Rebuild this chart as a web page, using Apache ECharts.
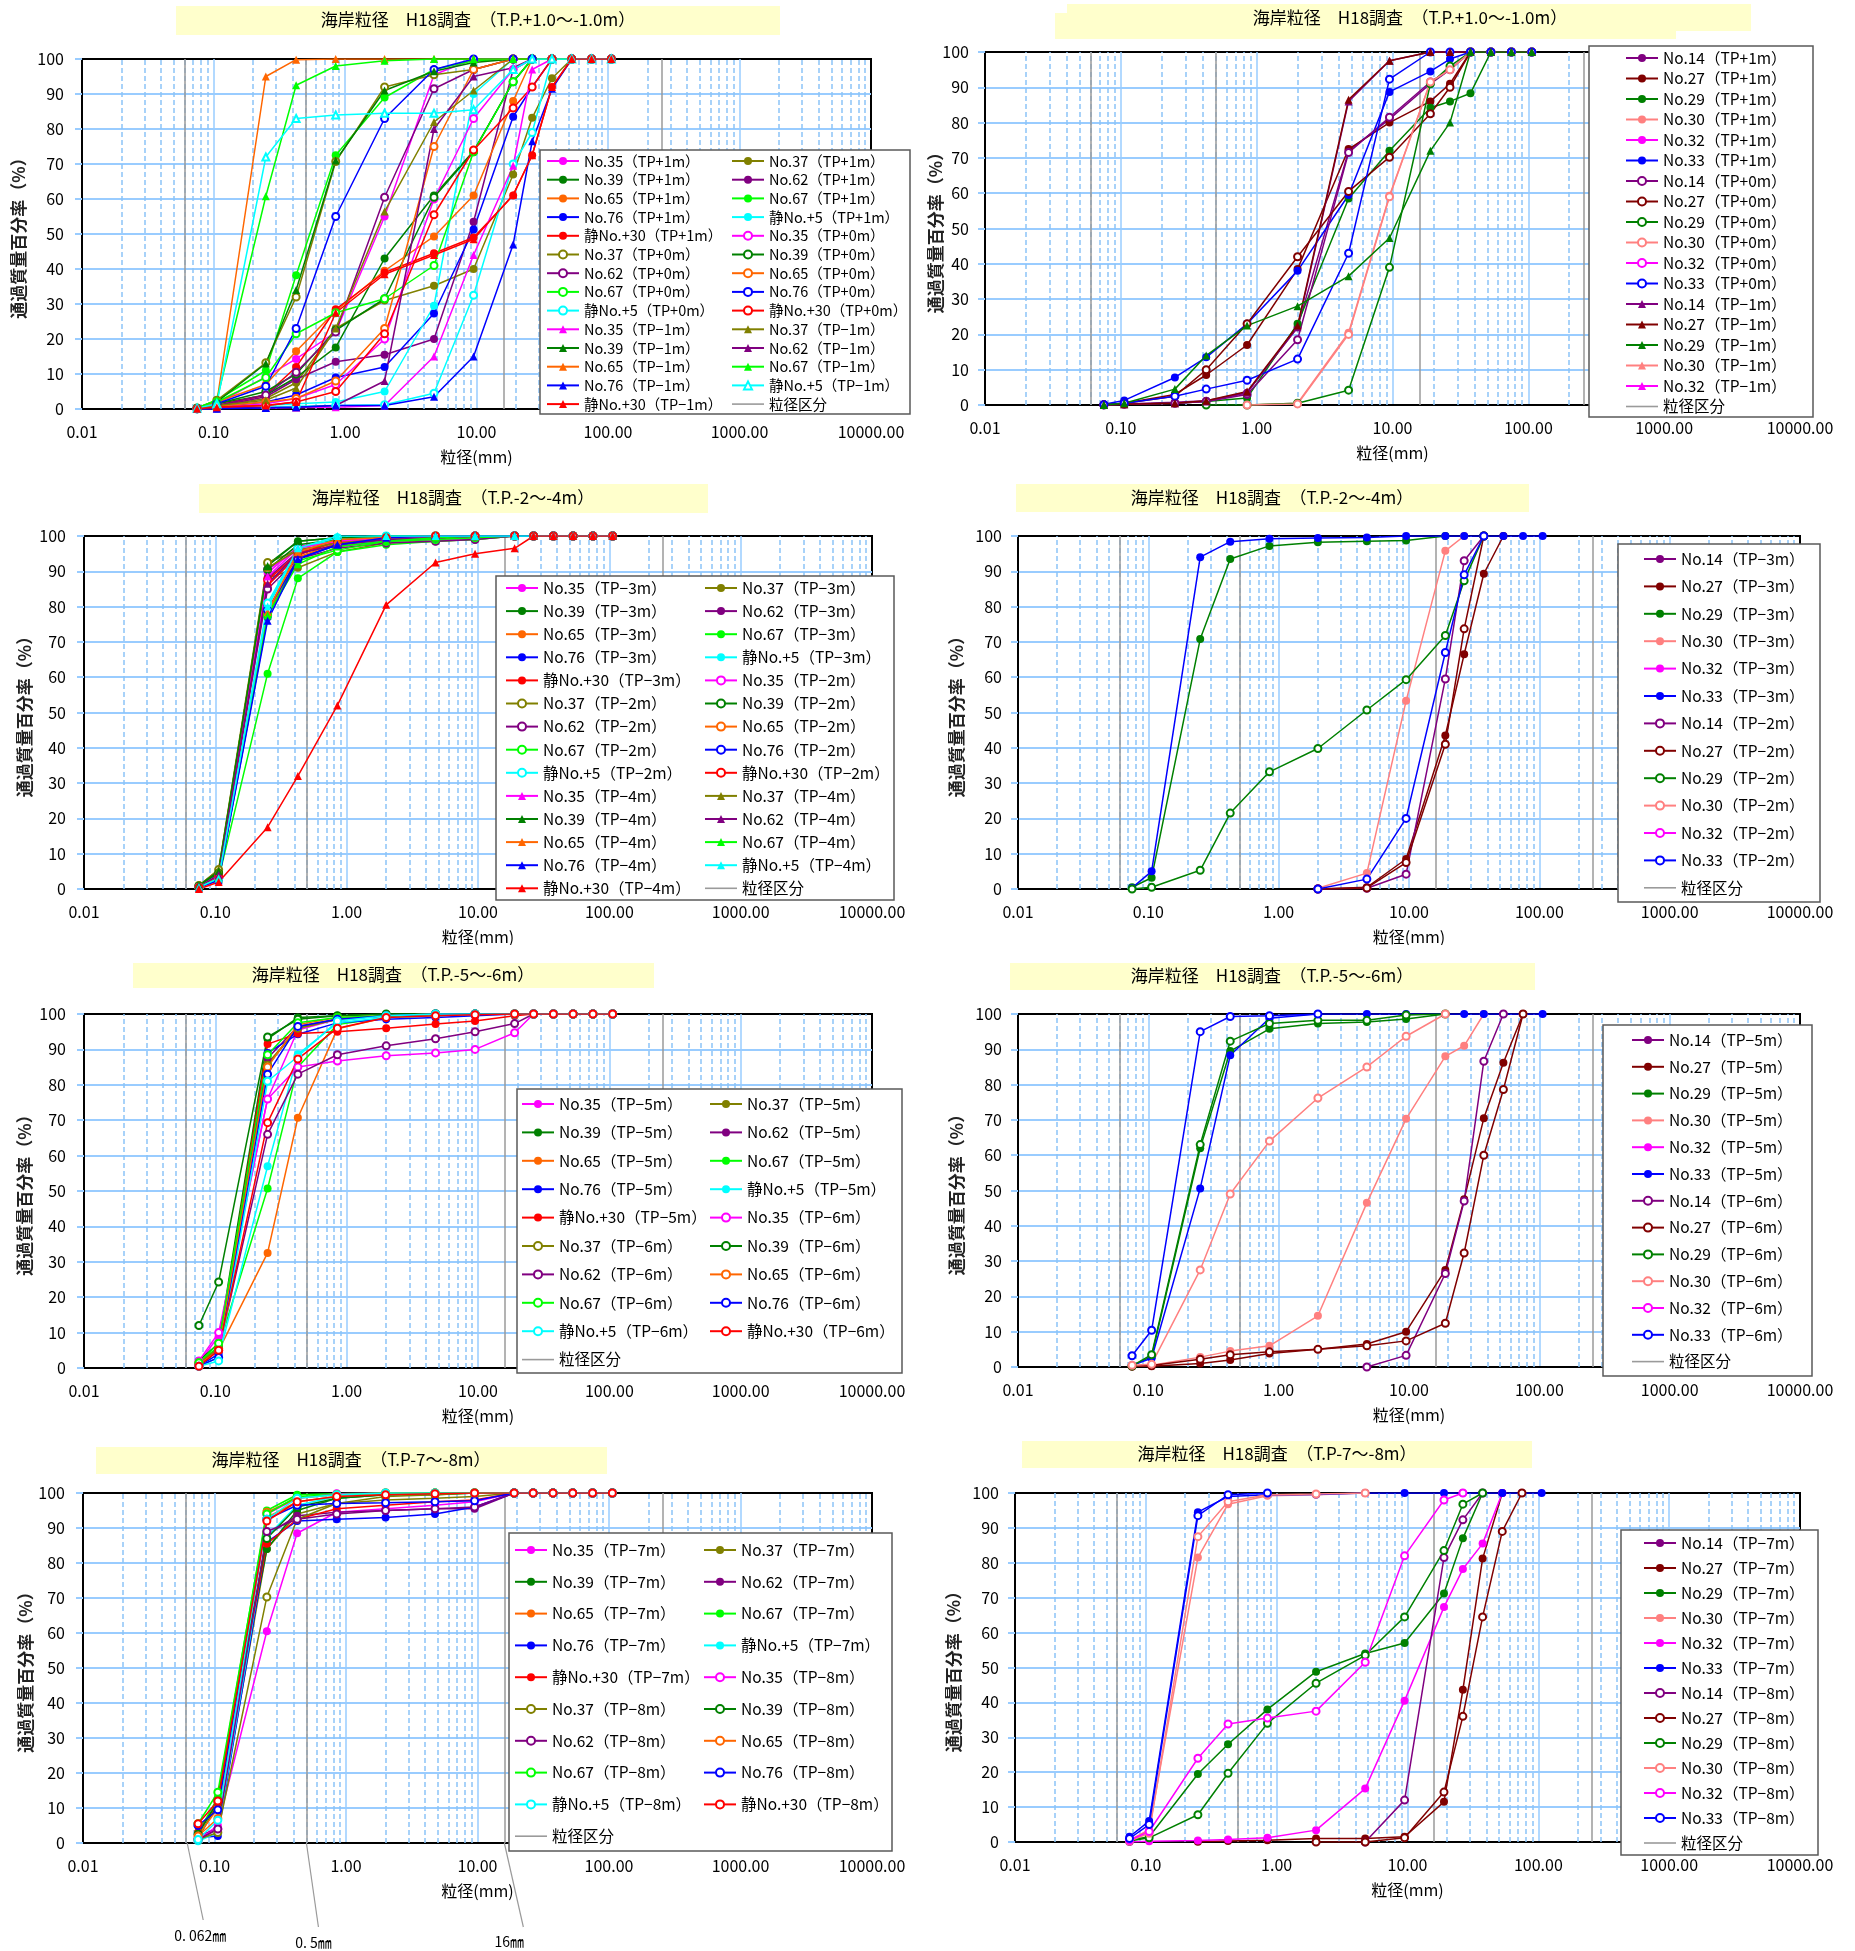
<!DOCTYPE html>
<html>
<head>
<meta charset="utf-8">
<script src="https://cdn.jsdelivr.net/npm/echarts@6.0.0/dist/echarts.min.js"></script>
<style>
body{margin:0;background:#fff;width:1855px;height:1951px;overflow:hidden;}
.pnl{position:absolute;}
</style>
</head>
<body>
<div id="c1" class="pnl" style="left:0;top:0;width:920px;height:470px"></div>
<div id="c2" class="pnl" style="left:920px;top:0;width:935px;height:470px"></div>
<div id="c3" class="pnl" style="left:0;top:470px;width:920px;height:475px"></div>
<div id="c4" class="pnl" style="left:920px;top:470px;width:935px;height:475px"></div>
<div id="c5" class="pnl" style="left:0;top:945px;width:920px;height:480px"></div>
<div id="c6" class="pnl" style="left:920px;top:945px;width:935px;height:480px"></div>
<div id="c7" class="pnl" style="left:0;top:1425px;width:920px;height:526px"></div>
<div id="c8" class="pnl" style="left:920px;top:1425px;width:935px;height:526px"></div>
<script>
const FONT = '"Noto Sans CJK JP", "Noto Sans", sans-serif';
const _ = null;

// sieve openings (mm) and grain-size class borders
const sieveMm = [0.075, 0.106, 0.25, 0.425, 0.85, 2, 4.75, 9.5, 19, 26.5, 37.5, 53, 75, 106];
const divisionMm = [0.062, 0.5, 16, 256];
const divisionLabels = ['0. 062㎜', '0. 5㎜', '16㎜'];
const decadeTicks = [0.01, 0.1, 1, 10, 100, 1000];
const minorMult = [2, 3, 4, 5, 6, 7, 8, 9];

const stationsL = ['No.35', 'No.37', 'No.39', 'No.62', 'No.65', 'No.67', 'No.76', '静No.+5', '静No.+30'];
const colorsL = ['#ff00ff', '#808000', '#008000', '#800080', '#ff6600', '#00ff00', '#0000ff', '#00ffff', '#ff0000'];
const stationsR = ['No.14', 'No.27', 'No.29', 'No.30', 'No.32', 'No.33'];
const colorsR = ['#800080', '#800000', '#008000', '#ff8080', '#ff00ff', '#0000ff'];

// ---- T.P.+1.0 ~ -1.0m, left
const p1TpPlus1 = [
  [0.2, 1.5, 9.2, 14.3, 22, 55, 95.5, 100, 100, 100, 100, 100, 100, 100],
  [0.1, 0.8, 3, 7.5, 23, 31, 35.2, 40, 67, 83.2, 94.5, 100, 100, 100],
  [0.2, 1.5, 4, 9, 17.6, 43, 61, 73.7, 93.5, 100, 100, 100, 100, 100],
  [0.1, 0.8, 3.5, 8.5, 13.5, 15.5, 20, 53.5, 97, 100, 100, 100, 100, 100],
  [0.3, 2, 7, 16.5, 28, 39.5, 49.3, 61, 88, 100, 100, 100, 100, 100],
  [0.3, 2.5, 11, 38.2, 72.5, 89, 97, 99.5, 100, 100, 100, 100, 100, 100],
  [0.1, 0.6, 2, 4, 9, 12, 27.3, 51.3, 83.5, 92, 100, 100, 100, 100],
  [0.1, 0.5, 1, 1.5, 2, 5, 29.5, 90, 100, 100, 100, 100, 100, 100],
  [0.2, 1, 4, 12, 28.5, 39, 44.5, 49, 61, 72.5, 92, 100, 100, 100]
];
const p1TpZero = [
  [0.1, 0.5, 1.5, 3, 7, 20, 60, 83, 97, 100, 100, 100, 100, 100],
  [0.3, 2.5, 13.2, 32, 70.7, 92, 95.5, 97, 100, 100, 100, 100, 100, 100],
  [0.2, 1.5, 5, 10, 22.5, 31.5, 60.5, 73.5, 93.5, 100, 100, 100, 100, 100],
  [0.1, 1, 4, 10.5, 22, 60.5, 91.5, 97, 100, 100, 100, 100, 100, 100],
  [0.1, 0.8, 2, 3, 8, 23, 75, 97, 100, 100, 100, 100, 100, 100],
  [0.2, 2, 9, 21.5, 27.5, 31.5, 41, 73.5, 93.5, 100, 100, 100, 100, 100],
  [0.1, 1.5, 6.5, 23, 55, 83, 97, 100, 100, 100, 100, 100, 100, 100],
  [0, 0.2, 0.5, 0.8, 1, 1.2, 4.5, 32.5, 70, 79, 100, 100, 100, 100],
  [0.1, 0.5, 1, 2, 5, 21.5, 55.5, 74, 86, 92, 100, 100, 100, 100]
];
const p1TpMinus1 = [
  [0, 0.2, 0.3, 0.4, 0.5, 1, 15, 44, 69.5, 97, 100, 100, 100, 100],
  [0.1, 1, 2.5, 6, 23, 56.4, 82, 91, 100, 100, 100, 100, 100, 100],
  [0.2, 2, 13, 34, 71, 91, 96.5, 99, 100, 100, 100, 100, 100, 100],
  [0, 0.2, 0.4, 0.5, 1, 8, 80, 95, 97.5, 100, 100, 100, 100, 100],
  [0.2, 2, 95, 99.8, 100, 100, 100, 100, 100, 100, 100, 100, 100, 100],
  [0.3, 2.5, 60.8, 92.5, 98, 99.5, 100, 100, 100, 100, 100, 100, 100, 100],
  [0, 0.1, 0.3, 0.5, 1, 1, 3.5, 15, 47, 76.5, 91.5, 100, 100, 100],
  [0.2, 1.5, 72, 83, 84, 84.5, 84.5, 85.5, 97, 100, 100, 100, 100, 100],
  [0.1, 0.5, 1, 2, 27.5, 38.5, 44, 48.5, 61.2, 72.5, 92, 100, 100, 100]
];

// ---- T.P.+1.0 ~ -1.0m, right
const p2TpPlus1 = [
  [0, 0.3, 0.8, 1.2, 3.5, 22, 72, 81, 91, 95, 100, 100, 100, 100],
  [0.1, 0.5, 3, 8.5, 17, 38.5, 72.5, 80, 86, 91, 100, 100, 100, 100],
  [0, 0.2, 0.5, 1, 2, 23, 58.5, 72, 84.2, 86, 88.3, 100, 100, 100],
  [_, _, _, _, 0, 0.5, 20.5, 59.3, 91.5, 95, 100, 100, 100, 100],
  [_, _, _, _, _, _, _, _, _, _, _, _, _, _],
  [0.2, 1.3, 7.8, 13.5, 23, 38, 59.5, 88.7, 94.5, 98, 100, 100, 100, 100]
];
const p2TpZero = [
  [0, 0.2, 0.5, 1, 3, 18.5, 71.5, 81.5, 91.5, 95, 100, 100, 100, 100],
  [0.1, 0.5, 2.5, 10, 23, 42, 60.5, 70.2, 82.5, 90, 100, 100, 100, 100],
  [_, _, _, 0, 0, 0.5, 4.2, 39, 91, 96, 100, 100, 100, 100],
  [_, _, _, _, 0, 0.3, 20, 59, 91.5, 95, 100, 100, 100, 100],
  [_, _, _, _, _, _, _, _, _, _, _, _, _, _],
  [0.1, 0.5, 2.5, 4.5, 7, 13, 43, 92.3, 100, 100, 100, 100, 100, 100]
];
const p2TpMinus1 = [
  [0, 0.2, 0.5, 1, 3.5, 22, 86, 97.5, 100, 100, 100, 100, 100, 100],
  [0, 0.2, 0.5, 1.2, 3.8, 22.5, 86.5, 97.5, 100, 100, 100, 100, 100, 100],
  [0, 0.5, 4.5, 14, 22.5, 28, 36.5, 47.3, 72, 80, 100, 100, 100, 100],
  [_, _, _, _, _, _, _, _, _, _, _, _, _, _],
  [_, _, _, _, _, _, _, _, _, _, _, _, _, _]
];

// ---- T.P.-2 ~ -4m, left
const p3TpMinus3 = [
  [0.5, 3.5, 89.5, 97, 98.5, 99, 99, 99.5, 100, 100, 100, 100, 100, 100],
  [0.8, 5, 88, 91, 95.5, 98, 98.5, 99, 100, 100, 100, 100, 100, 100],
  [1, 4.5, 92, 98.5, 99.5, 100, 100, 100, 100, 100, 100, 100, 100, 100],
  [0.5, 3.5, 88, 95.5, 97, 98.5, 99, 99.5, 100, 100, 100, 100, 100, 100],
  [0.5, 3, 79, 95, 98.5, 99.5, 100, 100, 100, 100, 100, 100, 100, 100],
  [0.5, 3, 61, 88, 95.5, 97.5, 98.5, 99, 100, 100, 100, 100, 100, 100],
  [0.5, 2.5, 77, 94, 97.5, 99, 99.5, 100, 100, 100, 100, 100, 100, 100],
  [0.5, 3, 80, 96, 99.5, 100, 100, 100, 100, 100, 100, 100, 100, 100],
  [0.5, 3.5, 86, 94.5, 98.5, 99.5, 100, 100, 100, 100, 100, 100, 100, 100]
];
const p3TpMinus2 = [
  [0.5, 4, 90.5, 96, 98, 99, 99, 99.3, 100, 100, 100, 100, 100, 100],
  [1, 5.5, 92.5, 96, 98, 99, 99.3, 99.6, 100, 100, 100, 100, 100, 100],
  [0.8, 4.5, 90.5, 97.5, 99, 99.5, 100, 100, 100, 100, 100, 100, 100, 100],
  [0.5, 3.5, 85, 93.5, 96.5, 98, 98.5, 99, 100, 100, 100, 100, 100, 100],
  [0.5, 3, 78, 94, 98, 99.5, 100, 100, 100, 100, 100, 100, 100, 100],
  [0.5, 3, 77.5, 93, 96, 98.5, 99, 99.5, 100, 100, 100, 100, 100, 100],
  [0.5, 3, 79, 93.5, 97.5, 99, 99.5, 100, 100, 100, 100, 100, 100, 100],
  [0.5, 3, 81, 96.5, 99.5, 100, 100, 100, 100, 100, 100, 100, 100, 100],
  [0.5, 3.5, 87.5, 95, 98.5, 99.5, 100, 100, 100, 100, 100, 100, 100, 100]
];
const p3TpMinus4 = [
  [0.5, 4, 88.5, 96.5, 98.5, 99.5, 99.5, 100, 100, 100, 100, 100, 100, 100],
  [1, 5.5, 91, 96, 98, 99, 99.5, 100, 100, 100, 100, 100, 100, 100],
  [1, 5, 91.5, 98.5, 99.5, 100, 100, 100, 100, 100, 100, 100, 100, 100],
  [0.5, 4, 86.5, 95, 97.5, 99, 99.5, 100, 100, 100, 100, 100, 100, 100],
  [0.5, 3, 78.5, 95.5, 99, 99.5, 100, 100, 100, 100, 100, 100, 100, 100],
  [0.5, 3, 77.5, 92, 97, 98.5, 99.5, 100, 100, 100, 100, 100, 100, 100],
  [0.5, 2.5, 76, 93.5, 97.5, 99.5, 100, 100, 100, 100, 100, 100, 100, 100],
  [0.5, 3, 80, 96.5, 100, 100, 100, 100, 100, 100, 100, 100, 100, 100],
  [0, 2, 17.5, 32, 52, 80.5, 92.5, 95, 96.5, 100, 100, 100, 100, 100]
];

// ---- T.P.-2 ~ -4m, right
const p4TpMinus3 = [
  [_, _, _, _, _, _, _, _, _, _, _, _, _, _],
  [_, _, _, _, _, 0, 0.5, 8.5, 43.5, 66.5, 89.3, 100, _, _],
  [0.5, 3.2, 70.8, 93.5, 97.2, 98.2, 98.5, 98.7, 100, _, _, _, _, _],
  [_, _, _, _, _, 0.2, 4.5, 53.3, 95.8, 100, _, _, _, _],
  [_, _, _, _, _, _, _, _, _, _, _, _, _, _],
  [0.3, 5, 94, 98.4, 99.2, 99.4, 99.6, 100, 100, 100, 100, 100, 100, 100]
];
const p4TpMinus2 = [
  [_, _, _, _, _, 0, 0.2, 4.2, 59.5, 93, 100, _, _, _],
  [_, _, _, _, _, 0, 0.3, 7.5, 41, 73.7, 100, _, _, _],
  [0, 0.5, 5.3, 21.5, 33.2, 39.8, 50.7, 59.3, 71.8, 87.3, 100, _, _, _],
  [_, _, _, _, _, _, _, _, _, _, _, _, _, _],
  [_, _, _, _, _, _, _, _, _, _, _, _, _, _],
  [_, _, _, _, _, 0, 2.8, 20, 67, 89, 100, _, _, _]
];

// ---- T.P.-5 ~ -6m, left
const p5TpMinus5 = [
  [1.5, 9, 76, 95.5, 98.5, 99.5, 100, 100, 100, 100, 100, 100, 100, 100],
  [1.5, 6, 86, 96, 98.5, 99.5, 100, 100, 100, 100, 100, 100, 100, 100],
  [2, 7, 93, 99, 99.5, 100, 100, 100, 100, 100, 100, 100, 100, 100],
  [1, 6, 87.5, 96.5, 98.5, 99.5, 100, 100, 100, 100, 100, 100, 100, 100],
  [1, 5, 32.5, 70.7, 95.8, 99, 99.5, 100, 100, 100, 100, 100, 100, 100],
  [1.5, 6, 50.7, 85, 97, 99, 99.5, 100, 100, 100, 100, 100, 100, 100],
  [0.5, 4, 89, 94.3, 97.5, 98.5, 99, 99.5, 100, 100, 100, 100, 100, 100],
  [0.5, 3, 57, 88.6, 97.5, 99, 99.5, 100, 100, 100, 100, 100, 100, 100],
  [1, 5, 91.5, 94.5, 95, 96, 97.2, 98, 99.5, 100, 100, 100, 100, 100]
];
const p5TpMinus6 = [
  [2, 10, 76, 85, 86.7, 88.2, 89, 90, 94.7, 100, 100, 100, 100, 100],
  [1.5, 5.5, 85.5, 96, 98.5, 99.5, 100, 100, 100, 100, 100, 100, 100, 100],
  [12, 24.3, 93.5, 98.5, 99.5, 100, 100, 100, 100, 100, 100, 100, 100, 100],
  [1, 5, 66, 83, 88.5, 91, 93, 95, 97.3, 100, 100, 100, 100, 100],
  [1, 5, 85, 97, 99, 99.5, 100, 100, 100, 100, 100, 100, 100, 100],
  [1.5, 7, 88.5, 97.5, 99, 99.5, 100, 100, 100, 100, 100, 100, 100, 100],
  [0.5, 3, 83, 96.5, 98.5, 99.5, 100, 100, 100, 100, 100, 100, 100, 100],
  [0.5, 2, 81, 88, 98, 99.5, 100, 100, 100, 100, 100, 100, 100, 100],
  [0.5, 5, 69.3, 87.3, 96, 99, 99.5, 99.8, 100, 100, 100, 100, 100, 100]
];

// ---- T.P.-5 ~ -6m, right
const p6TpMinus5 = [
  [_, _, _, _, _, _, _, _, _, _, _, _, _, _],
  [0.2, 0.2, 1, 2, 3.8, 5, 6.5, 10, 27.5, 47.5, 70.5, 86.2, 100, _],
  [0.3, 3, 62, 89.5, 95.8, 97.3, 97.7, 98.6, 100, _, _, _, _, _],
  [0.3, 0.5, 2.8, 4.5, 6, 14.5, 46.5, 70.3, 88, 91, 100, _, _, _],
  [_, _, _, _, _, _, _, _, _, _, _, _, _, _],
  [0.5, 2.5, 50.6, 88.3, 98.8, 100, 100, 100, 100, 100, 100, 100, 100, 100]
];
const p6TpMinus6 = [
  [_, _, _, _, _, _, 0, 3.3, 26.5, 47, 86.6, 100, _, _],
  [0.2, 0.4, 2.2, 3.5, 4.3, 5, 6, 7.4, 12.4, 32.3, 60, 78.6, 100, _],
  [0.3, 3.5, 63, 92.3, 97.3, 98.2, 98.2, 99.7, 100, _, _, _, _, _],
  [0.5, 0.8, 27.5, 49, 64, 76.2, 85, 93.7, 100, _, _, _, _, _],
  [_, _, _, _, _, _, _, _, _, _, _, _, _, _],
  [3.2, 10.4, 95, 99.3, 99.5, 100, _, _, _, _, _, _, _, _]
];

// ---- T.P-7 ~ -8m, left
const p7TpMinus7 = [
  [1, 5, 60.5, 88.5, 94.5, 95.5, 96.5, 97.5, 100, 100, 100, 100, 100, 100],
  [1, 4, 84, 94, 97, 98, 98.5, 99, 100, 100, 100, 100, 100, 100],
  [1.5, 11, 84, 95, 98.5, 99.5, 99.5, 100, 100, 100, 100, 100, 100, 100],
  [2, 4, 88, 93.5, 94.5, 95, 95.5, 95.5, 100, 100, 100, 100, 100, 100],
  [2, 10, 93, 97.5, 99, 99.5, 100, 100, 100, 100, 100, 100, 100, 100],
  [3, 13, 95, 99.5, 99.8, 100, 100, 100, 100, 100, 100, 100, 100, 100],
  [1.5, 2, 86, 92, 92.5, 93, 94, 96, 100, 100, 100, 100, 100, 100],
  [0.5, 3, 87.5, 96.5, 99, 99.5, 99.8, 100, 100, 100, 100, 100, 100, 100],
  [3, 11.5, 85.5, 92.5, 95.5, 96.5, 97.5, 98, 100, 100, 100, 100, 100, 100]
];
const p7TpMinus8 = [
  [1.5, 4, 94, 98.5, 99.8, 100, 100, 100, 100, 100, 100, 100, 100, 100],
  [1, 3, 70.3, 92.5, 97, 99, 99.5, 100, 100, 100, 100, 100, 100, 100],
  [2.5, 12, 87, 96, 98.5, 99.5, 100, 100, 100, 100, 100, 100, 100, 100],
  [1, 4, 89, 92.5, 94, 95, 95.5, 96, 100, 100, 100, 100, 100, 100],
  [2, 7, 94.5, 98.5, 99.5, 100, 100, 100, 100, 100, 100, 100, 100, 100],
  [5.5, 14.5, 94, 99, 99.5, 100, 100, 100, 100, 100, 100, 100, 100, 100],
  [5, 9.5, 92.5, 96.5, 97, 97.2, 97.5, 97.8, 100, 100, 100, 100, 100, 100],
  [1, 6.5, 92.5, 98.5, 99.5, 100, 100, 100, 100, 100, 100, 100, 100, 100],
  [5.5, 12, 92, 97.5, 99, 99.5, 99.8, 100, 100, 100, 100, 100, 100, 100]
];

// ---- T.P-7 ~ -8m, right
const p8TpMinus7 = [
  [_, _, _, _, _, _, _, _, _, _, _, _, _, _],
  [_, _, 0.1, 0.3, 0.5, 1, 1, 1.5, 11.5, 43.6, 81.2, 100, _, _],
  [0.5, 1.5, 19.5, 28, 38, 48.8, 54, 57, 71.2, 87, 100, _, _, _],
  [0.5, 3.5, 81.5, 96.8, 99.2, 99.5, 100, _, _, _, _, _, _, _],
  [0, 0.2, 0.4, 0.7, 1.2, 3.4, 15.3, 40.5, 67.3, 78.2, 85.5, 100, _, _],
  [1.5, 6, 94.5, 99, 99.5, 99.6, 100, 100, 100, 100, 100, 100, 100, 100]
];
const p8TpMinus8 = [
  [_, _, _, _, _, _, 0, 12, 81.5, 92.3, 100, _, _, _],
  [_, _, _, _, _, 0, 0, 1.2, 14.3, 36, 64.5, 89, 100, _],
  [0.3, 1.2, 7.8, 19.7, 34, 45.5, 53.5, 64.5, 83.5, 96.8, 100, _, _, _],
  [0.3, 2.5, 87.5, 97.5, 99.5, 99.7, 100, _, _, _, _, _, _, _],
  [0.5, 3, 24, 33.8, 35.5, 37.5, 51.5, 82, 98, 100, _, _, _, _],
  [1, 5, 93.5, 99.5, 100, _, _, _, _, _, _, _, _, _]
];

const T1 = '海岸粒径　H18調査　（T.P.+1.0～-1.0m）';
const T2 = '海岸粒径　H18調査　（T.P.-2～-4m）';
const T3 = '海岸粒径　H18調査　（T.P.-5～-6m）';
const T4 = '海岸粒径　H18調査　（T.P-7～-8m）';

// lg: box [x, y, w, h], icon x of each column, centre y of first row, row pitch
const panels = [
  {id:'c1', title:T1, st:stationsL, col:colorsL,
   groups:[['TP+1m', p1TpPlus1, 'circle'], ['TP+0m', p1TpZero, 'emptyCircle'], ['TP−1m', p1TpMinus1, 'triangle']],
   special:{'静No.+5（TP−1m）':'emptyTriangle'},
   grid:[82, 59, 789, 350], rects:[[176, 6, 604, 29]], tAt:[478, 20],
   lg:{box:[540, 150, 370, 264], xs:[546, 731], y0:161, pitch:18.7, font:14.5}, yGap:55, yMargin:18},
  {id:'c2', title:T1, st:stationsR, col:colorsR,
   groups:[['TP+1m', p2TpPlus1, 'circle'], ['TP+0m', p2TpZero, 'emptyCircle'], ['TP−1m', p2TpMinus1, 'triangle']],
   grid:[65, 52, 815, 353], rects:[[147, 4, 684, 27], [135, 13, 621, 26]], tAt:[490, 18],
   lg:{box:[669, 46, 224, 371], xs:[705], y0:58, pitch:20.5, font:15.5}, yGap:41, yMargin:16},
  {id:'c3', title:T2, st:stationsL, col:colorsL,
   groups:[['TP−3m', p3TpMinus3, 'circle'], ['TP−2m', p3TpMinus2, 'emptyCircle'], ['TP−4m', p3TpMinus4, 'triangle']],
   grid:[84, 66, 788, 353], rects:[[199, 14, 509, 29]], tAt:[453, 28],
   lg:{box:[496, 106, 398, 324], xs:[505, 704], y0:118, pitch:23.1, font:15.5}, yGap:51, yMargin:18},
  {id:'c4', title:T2, st:stationsR, col:colorsR,
   groups:[['TP−3m', p4TpMinus3, 'circle'], ['TP−2m', p4TpMinus2, 'emptyCircle']],
   grid:[98, 66, 782, 353], rects:[[96, 14, 513, 28]], tAt:[352, 28],
   lg:{box:[698, 74, 202, 358], xs:[723], y0:89, pitch:27.4, font:15.5}, yGap:53, yMargin:16},
  {id:'c5', title:T3, st:stationsL, col:colorsL,
   groups:[['TP−5m', p5TpMinus5, 'circle'], ['TP−6m', p5TpMinus6, 'emptyCircle']],
   grid:[84, 69, 788, 354], rects:[[133, 18, 521, 25]], tAt:[393, 30],
   lg:{box:[517, 144, 385, 284], xs:[521, 709], y0:159, pitch:28.4, font:15.5}, yGap:51, yMargin:18},
  {id:'c6', title:T3, st:stationsR, col:colorsR,
   groups:[['TP−5m', p6TpMinus5, 'circle'], ['TP−6m', p6TpMinus6, 'emptyCircle']],
   grid:[98, 69, 782, 353], rects:[[90, 18, 525, 27]], tAt:[352, 31],
   lg:{box:[683, 80, 209, 351], xs:[711], y0:95, pitch:26.8, font:15.5}, yGap:53, yMargin:16},
  {id:'c7', title:T4, st:stationsL, col:colorsL,
   groups:[['TP−7m', p7TpMinus7, 'circle'], ['TP−8m', p7TpMinus8, 'emptyCircle']],
   grid:[83, 68, 789, 350], rects:[[96, 22, 511, 27]], tAt:[351, 35],
   lg:{box:[509, 108, 383, 318], xs:[514, 703], y0:125, pitch:31.8, font:15.5}, yGap:49, yMargin:18},
  {id:'c8', title:T4, st:stationsR, col:colorsR,
   groups:[['TP−7m', p8TpMinus7, 'circle'], ['TP−8m', p8TpMinus8, 'emptyCircle']],
   grid:[95, 68, 785, 349], rects:[[102, 16, 510, 27]], tAt:[357, 29],
   lg:{box:[701, 105, 197, 325], xs:[723], y0:118, pitch:25, font:15.5}, yGap:53, yMargin:16}
];

const DIV_ICON = 'path://M0,0L32,0L32,1.6L0,1.6Z';
const minorX = [];
decadeTicks.forEach(d => minorMult.forEach(m => minorX.push(+(d * m).toPrecision(3))));

function buildSeries(pn){
  const out = [];
  const names = [];
  // dashed minor grid of the log axis
  out.push({type:'line', data:[], silent:true, z:1,
    markLine:{silent:true, z:1, symbol:['none','none'], label:{show:false}, animation:false,
      lineStyle:{color:'#8cc3f7', type:[5, 3], width:1.5}, emphasis:{disabled:true},
      data:minorX.map(x => ({xAxis:x}))}});
  pn.groups.forEach(g => {
    g[1].forEach((row, i) => {
      const name = pn.st[i] + '（' + g[0] + '）';
      const c = pn.col[i];
      const sym = (pn.special && pn.special[name]) || g[2];
      const hollow = sym.indexOf('empty') === 0;
      const pts = [];
      row.forEach((v, k) => { if(v !== null) pts.push([sieveMm[k], v]); });
      names.push(name);
      out.push({name:name, type:'line', data:pts, symbol:sym,
        symbolSize: hollow ? 7 : 8, showAllSymbol:true, z:3,
        lineStyle:{width:1.5, color:c},
        itemStyle:{color:c, borderColor:c, borderWidth: hollow ? 1.5 : 0},
        emphasis:{disabled:true}});
    });
  });
  out.push({name:'粒径区分', type:'line', data:[], color:'#9a9a9a', symbol:'none', z:2,
    lineStyle:{color:'#9a9a9a', width:1.5},
    markLine:{silent:true, z:2, symbol:['none','none'], label:{show:false}, animation:false,
      lineStyle:{color:'#9a9a9a', type:'solid', width:1.5}, emphasis:{disabled:true},
      data:divisionMm.map(x => ({xAxis:x}))}});
  names.push('粒径区分');
  return {series:out, names:names};
}

// one vertical legend per column, the frame is drawn as a graphic rect
function buildLegends(pn, names){
  const lg = pn.lg;
  const L = lg.pitch - 2;
  const items = names.map(n => n === '粒径区分' ? {name:n, icon:DIV_ICON} : n);
  return lg.xs.map((x, c) => ({
    type:'plain', orient:'vertical', left:x, top:lg.y0 - L / 2,
    itemWidth:32, itemHeight:10, itemGap:2, padding:0, selectedMode:false, z:10,
    textStyle:{fontFamily:FONT, fontSize:lg.font, color:'#000', lineHeight:L},
    data:items.filter((n, i) => i % lg.xs.length === c)
  }));
}

const charts = [];
panels.forEach(pn => {
  const ch = echarts.init(document.getElementById(pn.id));
  const b = buildSeries(pn);
  const gfx = pn.rects.map((r, i) => ({type:'rect', id:'tr' + i, silent:true, z:0,
    shape:{x:r[0], y:r[1], width:r[2], height:r[3]}, style:{fill:'#ffffcc'}}));
  gfx.push({type:'text', id:'tt', silent:true, z:1, x:pn.tAt[0], y:pn.tAt[1],
    style:{text:pn.title, fontSize:17, fontFamily:FONT, fill:'#000',
      align:'center', verticalAlign:'middle', textAlign:'center', textVerticalAlign:'middle'}});
  const bx = pn.lg.box;
  gfx.push({type:'rect', id:'lgbox', silent:true, z:9,
    shape:{x:bx[0], y:bx[1], width:bx[2], height:bx[3]},
    style:{fill:'#fff', stroke:'#5a5a5a', lineWidth:1.5}});
  ch.setOption({
    animation:false,
    backgroundColor:'#fff',
    textStyle:{fontFamily:FONT},
    grid:{left:pn.grid[0], top:pn.grid[1], width:pn.grid[2], height:pn.grid[3],
      show:true, borderColor:'#000', borderWidth:2, backgroundColor:'#fff',
      containLabel:false, outerBoundsMode:'none'},
    xAxis:{type:'log', logBase:10, min:0.01, max:10000, splitNumber:6,
      name:'粒径(mm)', nameLocation:'middle', nameGap:40, nameMoveOverlap:false,
      nameTextStyle:{fontSize:16, color:'#000', fontFamily:FONT},
      axisLine:{show:true, onZero:false, lineStyle:{color:'#000', width:2}},
      axisTick:{show:false},
      axisLabel:{fontSize:16, color:'#000', margin:15, fontFamily:FONT,
        showMinLabel:true, showMaxLabel:true, formatter:v => Number(v).toFixed(2)},
      splitLine:{show:true, showMinLine:false, showMaxLine:false, lineStyle:{color:'#99ccff', width:1.5}}},
    yAxis:{type:'value', min:0, max:100, interval:10,
      name:'通過質量百分率（%）', nameLocation:'middle', nameRotate:90, nameGap:pn.yGap,
      nameMoveOverlap:false,
      nameTextStyle:{fontSize:17, fontWeight:'bold', color:'#222', fontFamily:FONT},
      axisLine:{show:true, lineStyle:{color:'#000', width:2}},
      axisTick:{show:true, length:7, lineStyle:{color:'#99ccff', width:2}},
      axisLabel:{fontSize:16, color:'#000', margin:pn.yMargin, fontFamily:FONT},
      splitLine:{show:true, showMinLine:false, showMaxLine:false, lineStyle:{color:'#99ccff', width:2}}},
    legend:buildLegends(pn, b.names),
    graphic:{elements:gfx},
    series:b.series
  });
  charts.push(ch);
});

// leader lines and labels for the class borders under the T.P-7~-8m chart
const leaderOffsets = [[16, 77, -3, 16], [12, 84, -5, 16], [19, 84, -14, 15]];
const ch7 = charts[6];
const ann = [];
divisionLabels.forEach((t, i) => {
  const p = ch7.convertToPixel({gridIndex:0}, [divisionMm[i], 0]);
  const o = leaderOffsets[i];
  ann.push({type:'line', id:'al' + i, silent:true, z:5,
    shape:{x1:p[0], y1:p[1], x2:p[0] + o[0], y2:p[1] + o[1]},
    style:{stroke:'#9a9a9a', lineWidth:1.2}});
  ann.push({type:'text', id:'at' + i, silent:true, z:5,
    x:p[0] + o[0] + o[2], y:p[1] + o[1] + o[3],
    style:{text:t, fontSize:14, fontFamily:FONT, fill:'#000',
      align:'center', verticalAlign:'middle', textAlign:'center', textVerticalAlign:'middle'}});
});
ch7.setOption({graphic:{elements:ann}});
</script>
</body>
</html>
